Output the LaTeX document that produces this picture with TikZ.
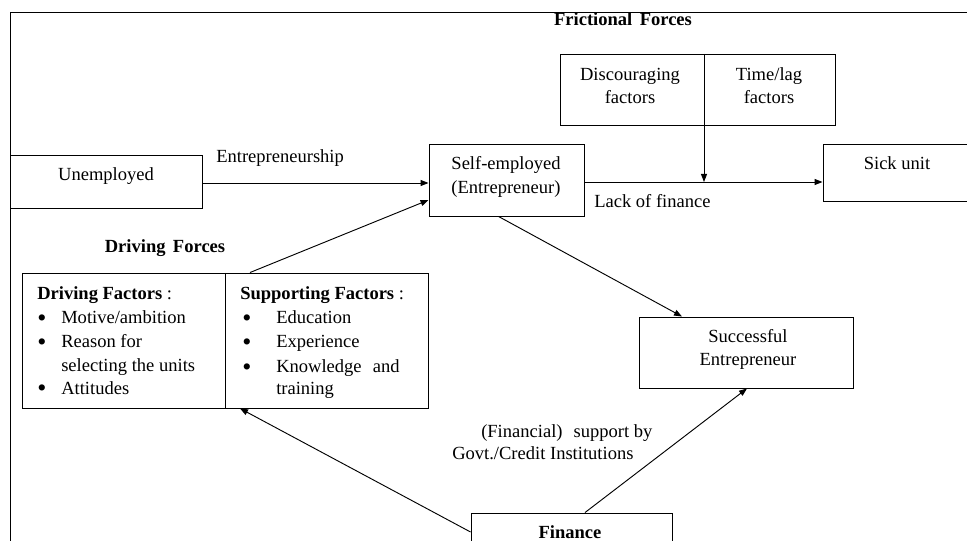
\documentclass[tikz,border=0pt]{standalone}
\usepackage{fontspec}
\setmainfont{Liberation Serif}
\usetikzlibrary{arrows.meta,fit,calc}
\newcommand{\bul}{\raisebox{-0.13em}{\scalebox{1.4}{\textbullet}}}
\begin{document}
\begin{tikzpicture}[x=0.75pt,y=-0.75pt,
  box/.style={draw, line width=0.7pt, inner sep=0pt},
  txt/.style={font=\fontsize{13.9pt}{18pt}\selectfont, inner sep=0pt, anchor=base},
  txtl/.style={txt, anchor=base west},
  conn/.style={line width=0.7pt, -{Triangle[length=6pt,width=4.5pt]}},
  rule/.style={line width=0.7pt},
]
\useasboundingbox (0,0) rectangle (967,541);
\clip (0,0) rectangle (967,541);
% frame
\draw[rule] (10,580) -- (10,12) -- (990,12);

% boxes
\node[box, fit={(10,155) (202,208)}] (un) {};
\node[txt] (unt) at (106,181) {Unemployed};

\node[box, fit={(429,144) (584,216)}] (se) {};
\node[txt] (se1) at (506,170) {Self-employed};
\node[txt] (se2) at (506,194) {(Entrepreneur)};

\node[box, fit={(560,54) (835,125)}] (dt) {};
\draw[rule] (704,54) -- (704,125);
\node[txt] (dt1) at (630,81) {Discouraging};
\node[txt] (dt2) at (630,104) {factors};
\node[txt] (dt3) at (769,81) {Time/lag};
\node[txt] (dt4) at (769,104) {factors};

\node[box, fit={(823,144) (990,201)}] (sk) {};
\node[txt] (skt) at (897,170) {Sick unit};

\node[box, fit={(22,273) (428,408)}] (df) {};
\draw[rule] (225,273) -- (225,408);
\node[txtl] (d0) at (37,300) {\textbf{Driving Factors} :};
\node[txtl] (d1) at (37,324) {\makebox[18pt][l]{\bul}Motive/ambition};
\node[txtl] (d2) at (37,348) {\makebox[18pt][l]{\bul}Reason for};
\node[txtl] (d3) at (61,372) {selecting the units};
\node[txtl] (d4) at (37,394) {\makebox[18pt][l]{\bul}Attitudes};
\node[txtl] (s0) at (240,300) {\textbf{Supporting Factors} :};
\node[txtl] (s1) at (242,324) {\makebox[25.5pt][l]{\bul}Education};
\node[txtl] (s2) at (242,348) {\makebox[25.5pt][l]{\bul}Experience};
\node[txtl] (s3) at (242,373) {\makebox[25.5pt][l]{\bul}Knowledge\hspace{0.6em}and};
\node[txtl] (s4) at (276,395) {training};

\node[box, fit={(639,317) (853,388)}] (sc) {};
\node[txt] (sc1) at (748,343) {Successful};
\node[txt] (sc2) at (748,366) {Entrepreneur};

\node[box, fit={(471,513) (672,590)}] (fi) {};
\node[txt] (fit) at (570,538) {\textbf{Finance}};

% labels
\node[txtl] (lent) at (216,163) {Entrepreneurship};
\node[txtl] (llf) at (594,208) {Lack of finance};
\node[txt] (lff) at (623,26) {\textbf{Frictional\hspace{0.4em}Forces}};
\node[txt] (ldf) at (165,253) {\textbf{Driving\hspace{0.4em}Forces}};
\node[txtl] (lfs1) at (481,437) {(Financial)\hspace{0.6em}support by};
\node[txtl] (lfs2) at (452,459) {Govt./Credit Institutions};

% connectors
\coordinate (ue) at ($(un.east)+(0,1.5)$);
\draw[conn] (ue) -- (ue -| se.west);
\coordinate (lf) at ($(se.east)+(0,2)$);
\draw[conn] (lf) -- (lf -| sk.west);
\coordinate (dv) at ($(dt.south)+(6.5,0)$);
\draw[conn] (dv) -- (dv |- lf);
\draw[conn] ($(df.north)+(25,0)$) -- ($(se.west)+(0,20)$);
\draw[conn] ($(se.south)+(-8,0)$) -- ($(sc.north)+(-64,0)$);
\draw[conn] ($(fi.north)+(13.5,0)$) -- ($(sc.south)+(1,0)$);
\draw[conn] ($(fi.west)+(0,-19.5)$) -- ($(df.south)+(15,0)$);
\end{tikzpicture}
\end{document}
